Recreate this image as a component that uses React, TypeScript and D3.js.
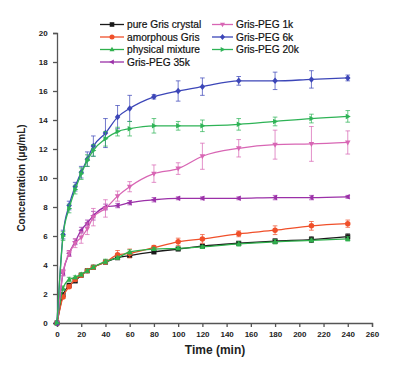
import React, { useRef, useEffect } from 'react';
import * as d3 from 'd3';

const times = [0, 5, 10, 15, 20, 25, 30, 40, 50, 60, 80, 100, 120, 150, 180, 210, 240];

const pureGris = [0, 1.95, 2.6, 2.9, 3.3, 3.6, 3.85, 4.2, 4.5, 4.65, 4.9, 5.1, 5.3, 5.5, 5.65, 5.75, 5.95];
const pureGrisErr = [0, 0.1, 0.1, 0.1, 0.1, 0.1, 0.1, 0.1, 0.1, 0.1, 0.1, 0.1, 0.1, 0.1, 0.15, 0.2, 0.2];
const amorphous = [0, 1.8, 2.5, 3.0, 3.3, 3.6, 3.85, 4.2, 4.7, 4.8, 5.2, 5.6, 5.8, 6.15, 6.4, 6.7, 6.85];
const amorphousErr = [0, 0.1, 0.1, 0.1, 0.1, 0.1, 0.1, 0.1, 0.3, 0.3, 0.15, 0.25, 0.3, 0.2, 0.3, 0.3, 0.25];
const physical = [0, 2.4, 3.0, 3.15, 3.35, 3.6, 3.85, 4.25, 4.5, 4.9, 5.1, 5.15, 5.25, 5.45, 5.6, 5.7, 5.8];
const physicalErr = [0, 0.15, 0.15, 0.1, 0.1, 0.1, 0.1, 0.15, 0.1, 0.15, 0.1, 0.1, 0.1, 0.15, 0.15, 0.1, 0.15];
const peg35k = [0, 3.45, 4.8, 5.6, 6.4, 6.9, 7.4, 8.0, 8.1, 8.3, 8.5, 8.6, 8.6, 8.6, 8.65, 8.65, 8.7];
const peg35kErr = [0, 0.2, 0.2, 0.2, 0.2, 0.2, 0.3, 0.2, 0.15, 0.15, 0.15, 0.1, 0.1, 0.1, 0.15, 0.15, 0.1];
const peg1k = [0, 3.5, 4.8, 5.5, 5.9, 6.5, 7.3, 7.9, 8.75, 9.4, 10.3, 10.65, 11.5, 12.05, 12.3, 12.35, 12.45];
const peg1kErr = [0, 0.2, 0.2, 0.3, 0.4, 0.4, 0.6, 0.6, 0.35, 0.35, 0.6, 0.4, 0.9, 0.6, 1.0, 1.2, 0.8];
const peg6k = [0, 6.1, 8.1, 9.4, 10.4, 11.3, 12.2, 13.1, 14.2, 14.8, 15.6, 16.0, 16.3, 16.7, 16.7, 16.8, 16.9];
const peg6kErr = [0, 0.3, 0.3, 0.3, 0.4, 0.5, 0.7, 1.0, 0.8, 0.9, 0.15, 0.7, 0.6, 0.3, 0.6, 0.6, 0.2];
const peg20k = [0, 6.0, 7.9, 9.2, 10.3, 11.2, 11.9, 12.7, 13.2, 13.4, 13.6, 13.6, 13.6, 13.7, 13.9, 14.1, 14.25];
const peg20kErr = [0, 0.3, 0.3, 0.3, 0.4, 0.4, 0.4, 0.5, 0.3, 0.5, 0.5, 0.3, 0.4, 0.4, 0.3, 0.3, 0.4];

const seriesNames = ['pure Gris crystal', 'amorphous Gris', 'physical mixture', 'Gris-PEG 35k', 'Gris-PEG 1k', 'Gris-PEG 6k', 'Gris-PEG 20k'];

const xTicks = d3.range(0, 261, 20);
const yTicks = d3.range(0, 21, 2);

const series = [
  { name: seriesNames[0], values: pureGris, err: pureGrisErr, color: '#1a1a1a', marker: 'square' },
  { name: seriesNames[1], values: amorphous, err: amorphousErr, color: '#f0502a', marker: 'circle' },
  { name: seriesNames[2], values: physical, err: physicalErr, color: '#2fb04c', marker: 'up' },
  { name: seriesNames[3], values: peg35k, err: peg35kErr, color: '#9b30a8', marker: 'left' },
  { name: seriesNames[4], values: peg1k, err: peg1kErr, color: '#d866b4', marker: 'down' },
  { name: seriesNames[5], values: peg6k, err: peg6kErr, color: '#3c46b8', marker: 'diamond' },
  { name: seriesNames[6], values: peg20k, err: peg20kErr, color: '#2eb356', marker: 'right' },
];

const markerPath = (type: string, s: number) => {
  switch (type) {
    case 'square':
      return `M${-s},${-s}h${2 * s}v${2 * s}h${-2 * s}Z`;
    case 'up':
      return `M0,${-s * 1.2}L${s * 1.1},${s * 0.8}L${-s * 1.1},${s * 0.8}Z`;
    case 'down':
      return `M0,${s * 1.2}L${s * 1.1},${-s * 0.8}L${-s * 1.1},${-s * 0.8}Z`;
    case 'left':
      return `M${-s * 1.2},0L${s * 0.8},${-s * 1.1}L${s * 0.8},${s * 1.1}Z`;
    case 'right':
      return `M${s * 1.2},0L${-s * 0.8},${-s * 1.1}L${-s * 0.8},${s * 1.1}Z`;
    case 'diamond':
      return `M0,${-s * 1.3}L${s * 1.1},0L0,${s * 1.3}L${-s * 1.1},0Z`;
    default:
      return d3.symbol(d3.symbolCircle, Math.PI * s * s * 1.2)() as string;
  }
};

const App = () => {
  const svgRef = useRef(null);

  useEffect(() => {
    const svg = d3.select(svgRef.current);
    svg.selectAll('*').remove();

    const x = d3.scaleLinear().domain([0, 260]).range([57, 372]);
    const y = d3.scaleLinear().domain([0, 20]).range([323, 33]);
    const font = 'Liberation Sans, Arial, sans-serif';

    // axes
    const xAxis = svg.append('g').attr('transform', 'translate(0,323)');
    xAxis.call(d3.axisBottom(x).tickValues(d3.range(0, 261, 10)).tickSize(2.5).tickFormat(() => ''));
    xAxis.call(d3.axisBottom(x).tickValues(xTicks).tickSize(4).tickFormat(d3.format('d')));
    xAxis.selectAll('path,line').attr('stroke', '#555').attr('stroke-width', 1.3);
    xAxis.selectAll('text').attr('font-family', font).attr('font-weight', 'bold').attr('font-size', 8).attr('fill', '#222').attr('dy', '0.9em');

    const yAxis = svg.append('g').attr('transform', 'translate(57,0)');
    yAxis.call(d3.axisLeft(y).tickValues(d3.range(0, 21, 1)).tickSize(2.5).tickFormat(() => ''));
    yAxis.call(d3.axisLeft(y).tickValues(yTicks).tickSize(4).tickFormat(d3.format('d')));
    yAxis.selectAll('path,line').attr('stroke', '#555').attr('stroke-width', 1.3);
    yAxis.selectAll('text').attr('font-family', font).attr('font-weight', 'bold').attr('font-size', 8).attr('fill', '#222').attr('dx', '-0.3em');
    svg.selectAll('.domain').attr('stroke', '#555');

    svg.append('text')
      .attr('transform', 'translate(25,178) rotate(-90)')
      .attr('text-anchor', 'middle')
      .attr('font-family', font)
      .attr('font-weight', 'bold')
      .attr('font-size', 10)
      .attr('fill', '#222')
      .text('Concentration (μg/mL)');

    svg.append('text')
      .attr('x', 215)
      .attr('y', 354)
      .attr('text-anchor', 'middle')
      .attr('font-family', font)
      .attr('font-weight', 'bold')
      .attr('font-size', 12)
      .attr('fill', '#222')
      .text('Time (min)');

    const line = d3.line<number>()
      .x((d, i) => x(times[i]))
      .y((d) => y(d))
      .curve(d3.curveMonotoneX);

    series.forEach((s) => {
      const g = svg.append('g');
      g.append('path')
        .attr('d', line(s.values))
        .attr('fill', 'none')
        .attr('stroke', s.color)
        .attr('stroke-width', 1.3);
      s.values.forEach((v, i) => {
        if (i === 0) return;
        const e = s.err[i];
        const cx = x(times[i]);
        g.append('path')
          .attr('d', `M${cx},${y(v - e)}V${y(v + e)}M${cx - 2.3},${y(v - e)}h4.6M${cx - 2.3},${y(v + e)}h4.6`)
          .attr('stroke', s.color)
          .attr('stroke-width', 0.9)
          .attr('fill', 'none')
          .attr('opacity', 0.8);
      });
      g.selectAll('.m')
        .data(s.values)
        .join('path')
        .attr('transform', (d, i) => `translate(${x(times[i])},${y(d)})`)
        .attr('d', markerPath(s.marker, 2.5))
        .attr('fill', s.color);
    });

    // legend
    const legendPos = [
      [100, 24.5], [100, 37], [100, 49.5], [100, 62],
      [212, 24.5], [212, 37], [212, 49.5],
    ];
    series.forEach((s, i) => {
      const [lx, ly] = legendPos[i];
      const w = i < 4 ? 24 : 21;
      const lg = svg.append('g');
      lg.append('line')
        .attr('x1', lx).attr('x2', lx + w)
        .attr('y1', ly).attr('y2', ly)
        .attr('stroke', s.color).attr('stroke-width', 1.3);
      lg.append('path')
        .attr('transform', `translate(${lx + w / 2},${ly})`)
        .attr('d', markerPath(s.marker, 2.3))
        .attr('fill', s.color);
      lg.append('text')
        .attr('x', lx + w + 3)
        .attr('y', ly + 3.6)
        .attr('font-family', font)
        .attr('font-size', 10.2)
        .attr('fill', '#111')
        .attr('stroke', '#111')
        .attr('stroke-width', 0.2)
        .text(s.name);
    });
  }, []);

  return (
    <svg
      ref={svgRef}
      width={394}
      height={366}
      style={{ position: 'absolute', left: 0, top: 0, background: '#fff' }}
    />
  );
};

export default App;
